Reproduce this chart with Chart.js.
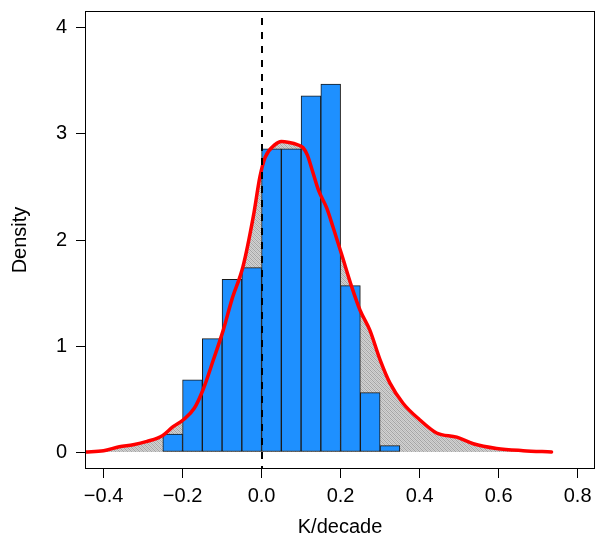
<!DOCTYPE html>
<html>
<head>
<meta charset="utf-8">
<script src="https://cdn.jsdelivr.net/npm/chart.js@4.4.1/dist/chart.umd.min.js"></script>
<style>
html,body{margin:0;padding:0;background:#fff;}
canvas{display:block;}
</style>
</head>
<body>
<canvas id="c" width="596" height="545"></canvas>
<script>
// Histogram: bin lower edges (width 0.05) and densities
const binStarts = [-0.25, -0.20, -0.15, -0.10, -0.05, 0.00, 0.05, 0.10, 0.15, 0.20, 0.25, 0.30];
const binDensity = [0.17, 0.68, 1.07, 1.63, 1.74, 2.86, 2.86, 3.36, 3.47, 1.57, 0.56, 0.06];
const binWidth = 0.05;

// Kernel density curve
const densX = [-0.447, -0.40, -0.36, -0.325, -0.29, -0.25, -0.224, -0.198, -0.17, -0.148, -0.122, -0.097, -0.075, -0.047, -0.021, -0.004, 0.009, 0.034, 0.05, 0.07, 0.09, 0.105, 0.116, 0.128, 0.144, 0.165, 0.181, 0.203, 0.228, 0.249, 0.274, 0.30, 0.325, 0.358, 0.40, 0.443, 0.494, 0.536, 0.595, 0.662, 0.734];
const densY = [0.0, 0.012, 0.05, 0.068, 0.10, 0.157, 0.24, 0.305, 0.415, 0.59, 0.87, 1.15, 1.44, 1.75, 2.22, 2.6, 2.78, 2.9, 2.93, 2.92, 2.9, 2.87, 2.8, 2.66, 2.47, 2.3, 2.12, 1.86, 1.56, 1.34, 1.15, 0.87, 0.65, 0.46, 0.305, 0.18, 0.14, 0.078, 0.034, 0.013, 0.0];

// Axis ticks
const xTicks = [-0.4, -0.2, 0.0, 0.2, 0.4, 0.6, 0.8];
const yTicks = [0, 1, 2, 3, 4];
const refLineX = 0;

const FONT = "'Liberation Sans', Arial, Helvetica, sans-serif";

const canvas = document.getElementById('c');
const ctx = canvas.getContext('2d');

// hatched gray fill pattern
function makeHatch() {
  const pc = document.createElement('canvas');
  pc.width = 4; pc.height = 4;
  const g = pc.getContext('2d');
  g.fillStyle = '#d2d2d2';
  g.fillRect(0, 0, 4, 4);
  g.fillStyle = '#bcbcbc';
  for (let i = 0; i < 4; i++) for (let j = 0; j < 4; j++) if ((i + j) % 2 === 0) g.fillRect(i, j, 1, 1);
  g.fillStyle = '#a4a4a4';
  for (let i = 0; i < 4; i++) g.fillRect(i, i, 1, 1);
  return ctx.createPattern(pc, 'repeat');
}

const densPts = densX.map((x, i) => ({x: x, y: densY[i]}));
const barPts = binStarts.map((s, i) => ({x: s + binWidth / 2, y: binDensity[i]}));

const boxPlugin = {
  id: 'boxAndRef',
  afterDatasetsDraw(chart) {
    const {ctx, chartArea} = chart;
    const xs = chart.scales.x;
    const px = Math.round(xs.getPixelForValue(refLineX));
    ctx.save();
    ctx.beginPath();
    ctx.rect(chartArea.left, chartArea.top, chartArea.right - chartArea.left, chartArea.bottom - chartArea.top);
    ctx.clip();
    ctx.strokeStyle = '#000';
    ctx.lineWidth = 2;
    ctx.setLineDash([7, 7]);
    ctx.lineDashOffset = 7;
    ctx.beginPath();
    ctx.moveTo(px, chartArea.top);
    ctx.lineTo(px, chartArea.bottom);
    ctx.stroke();
    ctx.restore();
  },
  afterDraw(chart) {
    const {ctx, chartArea} = chart;
    ctx.save();
    ctx.strokeStyle = '#000';
    ctx.lineWidth = 1;
    ctx.strokeRect(chartArea.left + 0.5, chartArea.top + 0.5, chartArea.right - chartArea.left - 1, chartArea.bottom - chartArea.top - 1);
    ctx.restore();
  }
};

const fmtX = v => {
  const s = Math.abs(v).toFixed(1);
  return v < -1e-9 ? '\u2212' + s : s;
};

new Chart(canvas, {
  type: 'bar',
  data: {
    datasets: [
      {
        type: 'line',
        data: densPts,
        borderWidth: 0,
        borderColor: 'rgba(0,0,0,0)',
        backgroundColor: makeHatch(),
        fill: 'origin',
        pointRadius: 0,
        cubicInterpolationMode: 'monotone',
        order: 3
      },
      {
        type: 'bar',
        data: barPts,
        backgroundColor: '#1E90FF',
        borderColor: '#1a1a1a',
        borderWidth: 1,
        borderSkipped: false,
        barPercentage: 1.0,
        categoryPercentage: 1.0,
        grouped: false,
        order: 2
      },
      {
        type: 'line',
        data: densPts,
        borderColor: '#FF0000',
        borderWidth: 3.5,
        fill: false,
        pointRadius: 0,
        cubicInterpolationMode: 'monotone',
        borderCapStyle: 'round',
        borderJoinStyle: 'round',
        order: 1
      }
    ]
  },
  options: {
    responsive: false,
    animation: false,
    devicePixelRatio: 1,
    layout: {padding: {top: 11, right: 1, left: 0, bottom: 0}},
    plugins: {legend: {display: false}, tooltip: {enabled: false}},
    scales: {
      x: {
        type: 'linear',
        min: -0.447,
        max: 0.844,
        offset: false,
        afterFit(s) { s.height = 76; s.paddingLeft = 0; s.paddingRight = 0; },
        afterBuildTicks(s) { s.ticks = xTicks.map(v => ({value: v})); },
        grid: {display: true, offset: false, drawOnChartArea: false, drawTicks: true, tickLength: 9, tickColor: '#000', tickWidth: 1},
        border: {display: false},
        ticks: {
          autoSkip: false, maxRotation: 0, padding: 6, color: '#000',
          font: {family: FONT, size: 20},
          callback: v => fmtX(v)
        },
        title: {display: true, text: 'K/decade', color: '#000', font: {family: FONT, size: 20}, padding: {top: 0, bottom: 6}}
      },
      y: {
        type: 'linear',
        min: -0.16,
        max: 4.16,
        afterFit(s) { s.width = 85; s.paddingTop = 0; s.paddingBottom = 0; },
        afterBuildTicks(s) { s.ticks = yTicks.map(v => ({value: v})); },
        grid: {display: true, offset: false, drawOnChartArea: false, drawTicks: true, tickLength: 9, tickColor: '#000', tickWidth: 1},
        border: {display: false},
        ticks: {
          autoSkip: false, padding: 9, color: '#000',
          font: {family: FONT, size: 20},
          callback: v => String(v)
        },
        title: {display: true, text: 'Density', color: '#000', font: {family: FONT, size: 20}, padding: {top: 8, bottom: 0}}
      }
    }
  },
  plugins: [boxPlugin]
});
</script>
</body>
</html>
